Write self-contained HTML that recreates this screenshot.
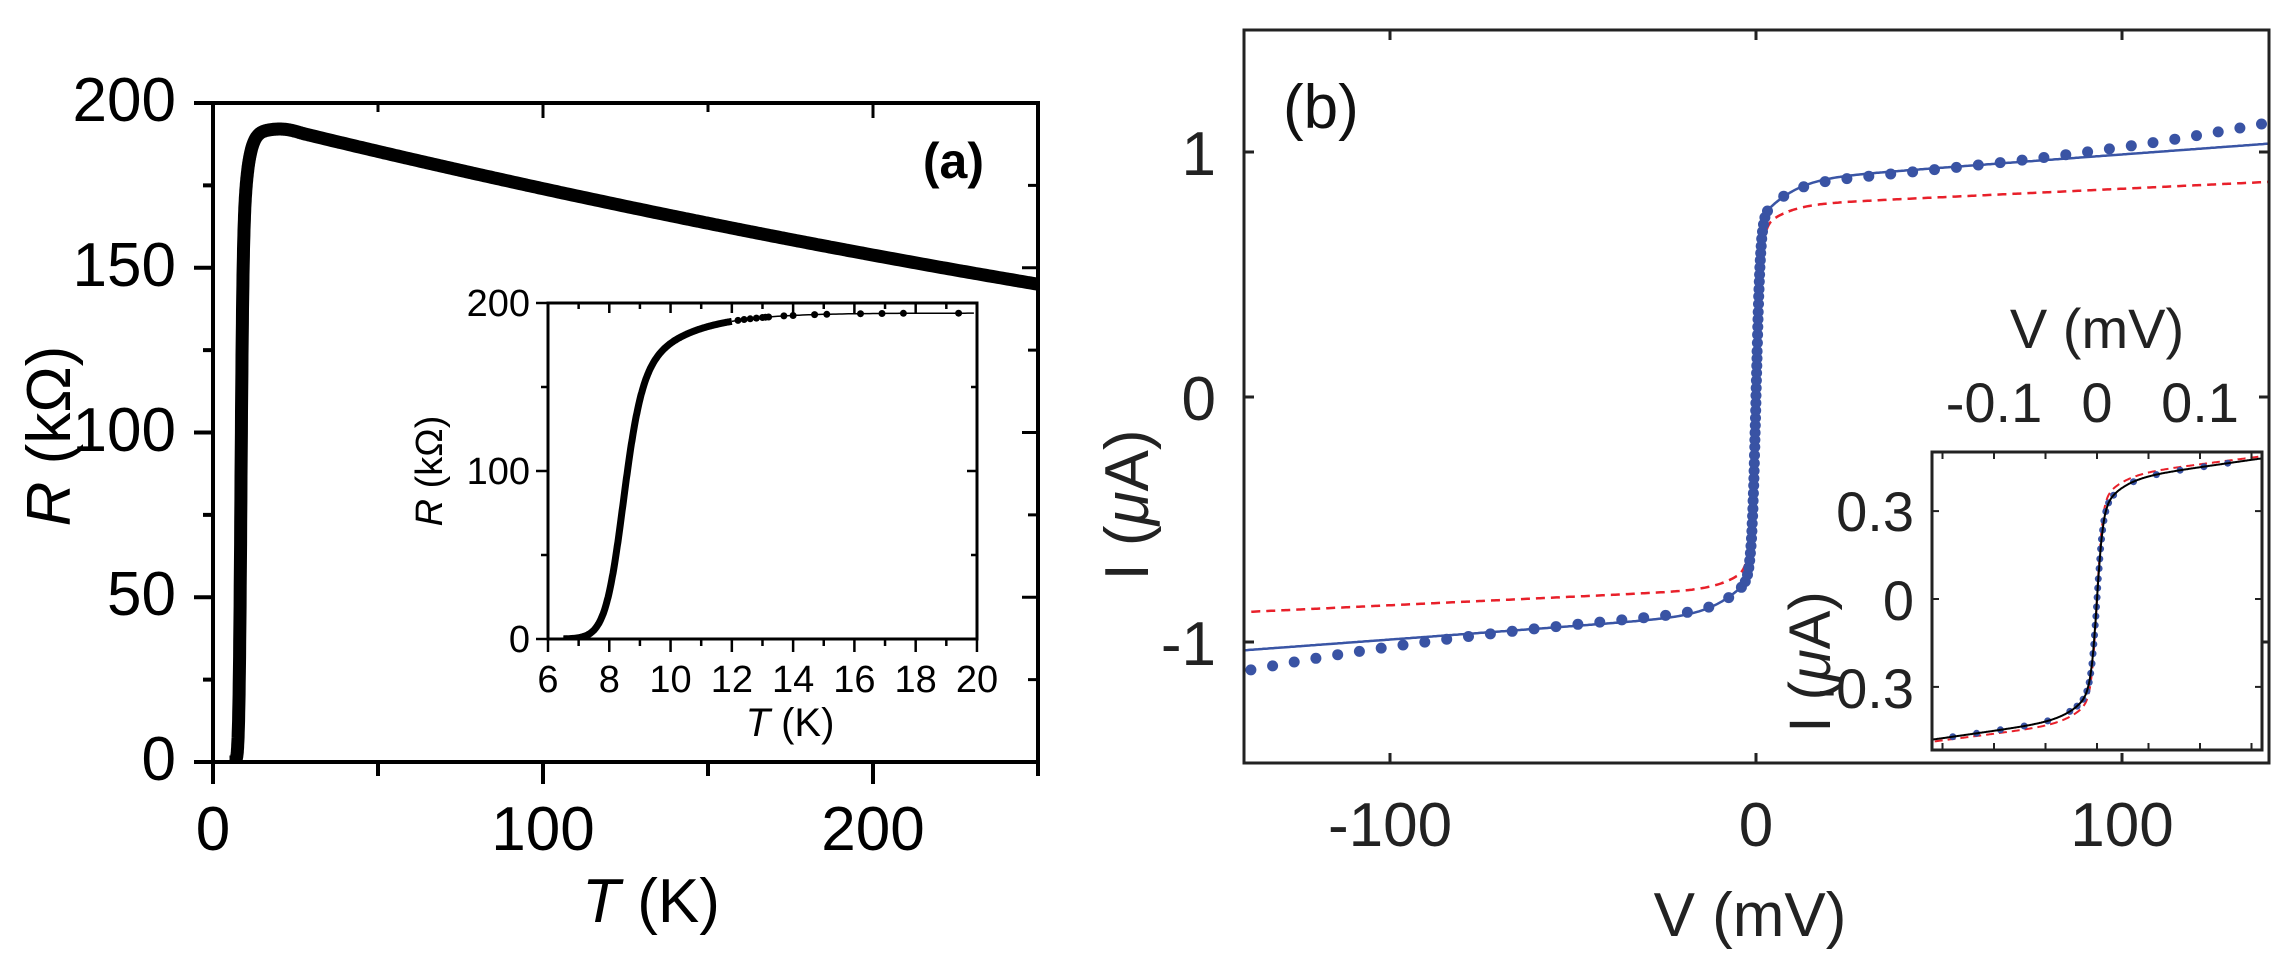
<!DOCTYPE html>
<html><head><meta charset="utf-8">
<style>
html,body{margin:0;padding:0;background:#fff;}
svg{display:block;}
text{font-family:"Liberation Sans",sans-serif;}
</style></head>
<body>
<svg id="s" width="2294" height="968" viewBox="0 0 2294 968" xmlns="http://www.w3.org/2000/svg">
<defs>
<clipPath id="ca"><rect x="213" y="103" width="825" height="659"/></clipPath>
<clipPath id="cia"><rect x="548" y="303" width="429" height="336"/></clipPath>
<clipPath id="cb"><rect x="1244" y="30" width="1025" height="733"/></clipPath>
<clipPath id="cib"><rect x="1932" y="452" width="330" height="298"/></clipPath>
</defs>
<g id="g"></g>
<!-- Panel a text -->
<g font-size="62" fill="#000" text-anchor="end">
<text x="176" y="121">200</text>
<text x="176" y="286">150</text>
<text x="176" y="451">100</text>
<text x="176" y="615">50</text>
<text x="176" y="780">0</text>
</g>
<g font-size="62" fill="#000" text-anchor="middle">
<text x="213" y="850">0</text>
<text x="543" y="850">100</text>
<text x="873" y="850">200</text>
<text x="651" y="922"><tspan font-style="italic">T</tspan> (K)</text>
</g>
<text transform="translate(70,436) rotate(-90)" font-size="62" text-anchor="middle"><tspan font-style="italic">R</tspan> (kΩ)</text>
<text x="984" y="178" font-size="50" font-weight="bold" text-anchor="end">(a)</text>
<!-- inset a text -->
<g font-size="38" text-anchor="end">
<text x="530" y="316">200</text>
<text x="530" y="484">100</text>
<text x="530" y="652">0</text>
</g>
<g font-size="38" text-anchor="middle" id="iax"></g>
<text x="790" y="736" font-size="40" text-anchor="middle"><tspan font-style="italic">T</tspan> (K)</text>
<text transform="translate(442,471) rotate(-90)" font-size="38" text-anchor="middle"><tspan font-style="italic">R</tspan> (kΩ)</text>
<!-- Panel b text -->
<g font-size="62" fill="#222" text-anchor="end">
<text x="1216" y="175">1</text>
<text x="1216" y="420">0</text>
<text x="1216" y="665">-1</text>
</g>
<g font-size="62" fill="#222" text-anchor="middle">
<text x="1390" y="846">-100</text>
<text x="1756" y="846">0</text>
<text x="2122" y="846">100</text>
<text x="1750" y="936">V (mV)</text>
</g>
<text transform="translate(1148,505) rotate(-90)" font-size="62" fill="#222" text-anchor="middle">I (<tspan font-style="italic">μ</tspan>A)</text>
<text x="1283" y="128" font-size="62" fill="#111">(b)</text>
<g font-size="56" fill="#222" text-anchor="middle">
<text x="2097" y="348">V (mV)</text>
<text x="1994" y="422">-0.1</text>
<text x="2097" y="422">0</text>
<text x="2200" y="422">0.1</text>
</g>
<g font-size="56" fill="#222" text-anchor="end">
<text x="1914" y="531">0.3</text>
<text x="1914" y="620">0</text>
<text x="1914" y="708">-0.3</text>
</g>
<text transform="translate(1830,662) rotate(-90)" font-size="58" fill="#222" text-anchor="middle">I (<tspan font-style="italic">μ</tspan>A)</text>
</svg>
<script>
(function(){
var g=document.getElementById('g'),h='';
function L(x1,y1,x2,y2,w,c){h+='<line x1="'+x1+'" y1="'+y1+'" x2="'+x2+'" y2="'+y2+'" stroke="'+(c||'#000')+'" stroke-width="'+w+'"/>';}
function P(pts,attr){var d='M'+pts.map(function(p){return p[0].toFixed(1)+','+p[1].toFixed(1)}).join('L');h+='<path d="'+d+'" fill="none" '+attr+'/>';}
function C(x,y,r,c){h+='<circle cx="'+x.toFixed(1)+'" cy="'+y.toFixed(1)+'" r="'+r+'" fill="'+c+'"/>';}
function lg(T){return 1/(1+Math.exp(-(T-8.4)/0.3));}
function low(T){return lg(T)*(194-60*Math.exp(-(T-8)/1.6));}
function high(T){var d=T-22;return 192-0.2436*d+1.643e-4*d*d;}
function R(T){if(T<=16)return low(T)*192/194;if(T>=28)return high(T);var w=(T-16)/12;w=w*w*(3-2*w);return (1-w)*low(T)*192/194+w*high(T);}
// Panel a
var ax=function(T){return 213+T*3.3},ay=function(r){return 762-r*3.295};
var pts=[];for(var T=5;T<=252;T+=(T<30?0.05:1))pts.push([ax(T),ay(R(T))]);
h+='<g clip-path="url(#ca)">';P(pts,'stroke="#000" stroke-width="13" stroke-linejoin="round"');h+='</g>';
h+='<rect x="213" y="103" width="825" height="659" fill="none" stroke="#000" stroke-width="4"/>';
for(var v=0;v<=250;v+=50){var x=ax(v),maj=(v%100==0);L(x,762,x,maj?784:776,4);L(x,103,x,maj?118:112,3);}
for(var r=0;r<=200;r+=25){var y=ay(r),maj=(r%50==0);L(213,y,maj?194:203,y,4);L(1038,y,maj?1022:1028,y,3);}
// inset a
var ix=function(T){return 548+(T-6)*30.64},iy=function(r){return 639-r*1.68};
h+='<rect x="548" y="303" width="429" height="336" fill="#fff" stroke="#000" stroke-width="3"/>';
h+='<g clip-path="url(#cia)">';
pts=[];for(T=6.5;T<=12;T+=0.02)pts.push([ix(T),iy(low(T))]);
P(pts,'stroke="#000" stroke-width="7"');
var dT=[12.2,12.4,12.6,12.8,13,13.1,13.2,13.7,14,14.7,15.1,16.2,16.9,17.6,19.4];
pts=[];for(T=12;T<=20;T+=0.1)pts.push([ix(T),iy(low(T))]);
P(pts,'stroke="#000" stroke-width="1.5"');
dT.forEach(function(t){C(ix(t),iy(low(t)),3.5,'#000');});
h+='</g>';
var lab='';
for(T=6;T<=20;T++){var x=ix(T),maj=(T%2==0);L(x,639,x,maj?652:646,2.5);L(x,303,x,maj?313:309,2.5);if(maj)lab+='<text x="'+x+'" y="692">'+T+'</text>';}
for(r=0;r<=200;r+=50){var y=iy(r),maj=(r%100==0);L(548,y,maj?536:541,y,2.5);L(977,y,maj?967:971,y,2.5);}
document.getElementById('iax').innerHTML=lab;
// Panel b
var bx=function(V){return 1756+V*3.66},by=function(I){return 397-I*245};
function fb(V){return 0.72*Math.tanh(V/1.2)+0.16*Math.tanh(V/12)+0.0011*V;}
function fr(V){return 0.68*Math.tanh(V/1.5)+0.10*Math.tanh(V/10)+0.0007*V;}
function fd(V){return 0.72*Math.tanh(V/1.2)+0.14*Math.tanh(V/10)+0.00133*V+2.68e-8*V*V*V;}
h+='<g clip-path="url(#cb)">';
pts=[];for(var V=-142;V<=142;V+=(Math.abs(V)<10?0.05:0.5))pts.push([bx(V),by(fr(V))]);
P(pts,'stroke="#e8202a" stroke-width="2.5" stroke-dasharray="9 6"');
pts=[];for(V=-142;V<=142;V+=(Math.abs(V)<10?0.05:0.5))pts.push([bx(V),by(fb(V))]);
P(pts,'stroke="#3a55a5" stroke-width="2.5"');
var last=null;
for(V=-138;V<=140;V+=0.01){var x=bx(V),y=by(fd(V));var sp=Math.abs(V)<4?7:22;if(!last||Math.hypot(x-last[0],y-last[1])>=sp){C(x,y,5.5,'#3953a4');last=[x,y];}}
h+='</g>';
h+='<rect x="1244" y="30" width="1025" height="733" fill="none" stroke="#222" stroke-width="3"/>';
[-100,0,100].forEach(function(v){var x=bx(v);L(x,763,x,753,3,'#222');L(x,30,x,40,3,'#222');});
[-1,0,1].forEach(function(v){var y=by(v);L(1244,y,1254,y,3,'#222');L(2269,y,2259,y,3,'#222');});
// inset b
var jx=function(V){return 2097+V*1030},jy=function(I){return 599-I*293};
function gb(V){return 0.3*Math.tanh(V/0.006)+0.1*Math.tanh(V/0.03)+0.5*V;}
function gr(V){return 0.33*Math.tanh(V/0.0055)+0.085*Math.tanh(V/0.03)+0.45*V;}
h+='<rect x="1932" y="452" width="330" height="298" fill="#fff"/>';
h+='<g clip-path="url(#cib)">';
pts=[];for(V=-0.17;V<=0.17;V+=0.0005)pts.push([jx(V),jy(gr(V))]);
P(pts,'stroke="#e8202a" stroke-width="2" stroke-dasharray="8 5"');
last=null;
for(V=-0.14;V<=0.14;V+=0.0001){var x=jx(V),y=jy(gb(V));var sp=Math.abs(V)<0.02?9:24;if(!last||Math.hypot(x-last[0],y-last[1])>=sp){C(x,y,3.5,'#3953a4');last=[x,y];}}
pts=[];for(V=-0.17;V<=0.17;V+=0.0005)pts.push([jx(V),jy(gb(V))]);
P(pts,'stroke="#000" stroke-width="2"');
h+='</g>';
h+='<rect x="1932" y="452" width="330" height="298" fill="none" stroke="#222" stroke-width="3"/>';
[-0.15,-0.1,-0.05,0,0.05,0.1,0.15].forEach(function(v){var x=jx(v);L(x,750,x,743,2,'#222');L(x,452,x,459,2,'#222');});
[-0.3,0,0.3].forEach(function(v){var y=jy(v);L(1932,y,1939,y,2,'#222');L(2262,y,2255,y,2,'#222');});
g.innerHTML=h;
})();
</script>
</body></html>
